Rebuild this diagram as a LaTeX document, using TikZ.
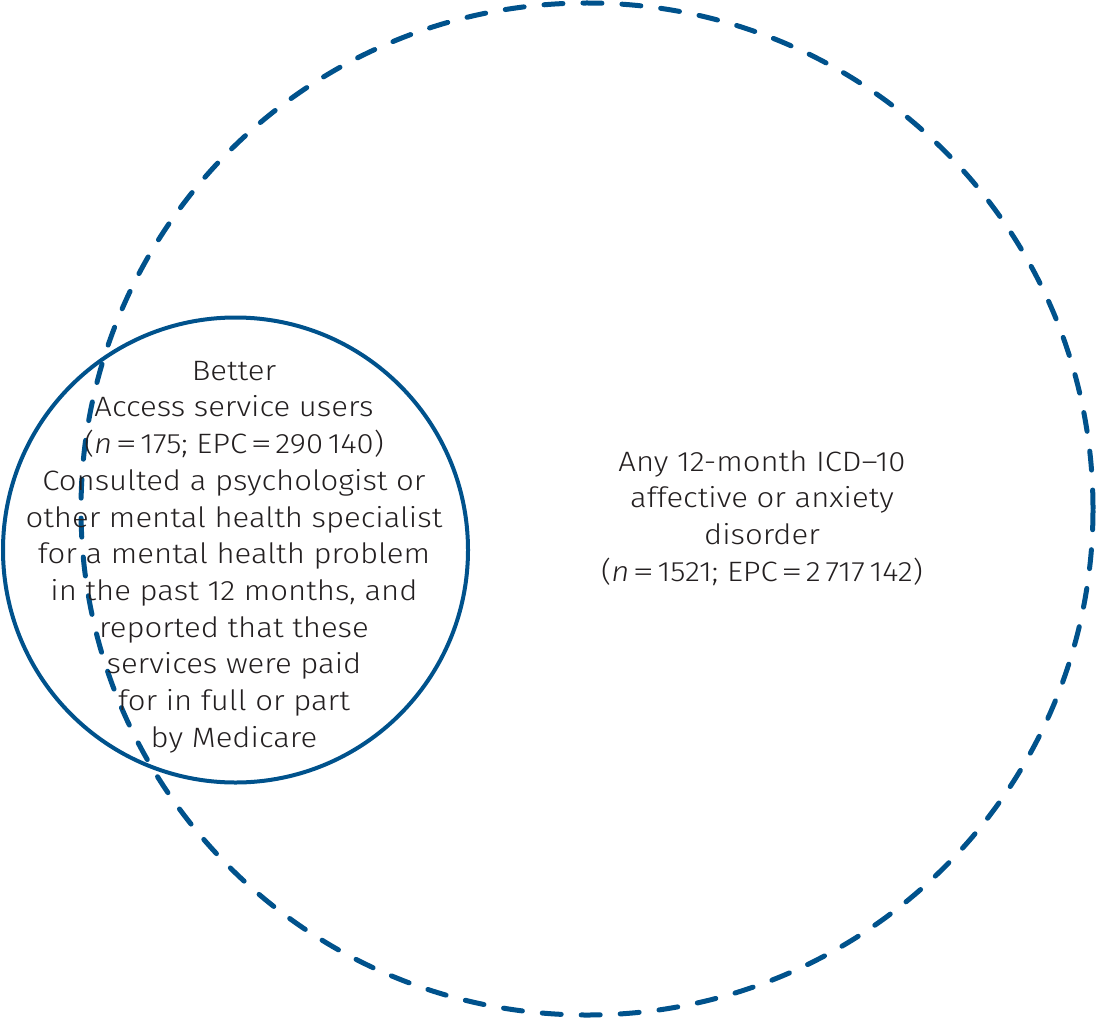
\documentclass[tikz,border=0pt]{standalone}
\usepackage{fontspec}
\usepackage{graphicx}
\setmainfont{Fira Sans}[UprightFont=* Light, ItalicFont=* Light Italic, FakeStretch=1.11]
\definecolor{vblue}{RGB}{0,82,140}
\definecolor{vtext}{RGB}{35,31,32}
\newcommand{\veq}{\hspace{0.12em}\scalebox{1.4}[1]{=}\hspace{0.12em}}
\begin{document}
\begin{tikzpicture}[x=1pt,y=-1pt,
  ring/.style={circle, draw=vblue, inner sep=0pt, outer sep=0pt},
  lbl/.style={align=center, text=vtext, font=\fontsize{28}{36.7}\selectfont, inner sep=0pt}]
\useasboundingbox (0,0) rectangle (1097,1019);
\node (big) [ring, line width=5pt, dash pattern=on 19pt off 20pt, line cap=round, minimum size=1012pt] at (587,509) {};
\node (small) [ring, line width=4pt, minimum size=465pt] at (235.5,550) {};
\node (smalltext) [lbl] at (234,557) {Better\\Access service users\\(\textit{n}\veq175; EPC\veq290\,140)\\Consulted a psychologist or\\other mental health specialist\\for a mental health problem\\in the past 12 months, and\\reported that these\\services were paid\\for in full or part\\by Medicare};
\node (bigtext) [lbl] at (762,518) {Any 12-month ICD–10\\affective or anxiety\\disorder\\(\textit{n}\veq1521; EPC\veq2\,717\,142)};
\end{tikzpicture}
\end{document}
